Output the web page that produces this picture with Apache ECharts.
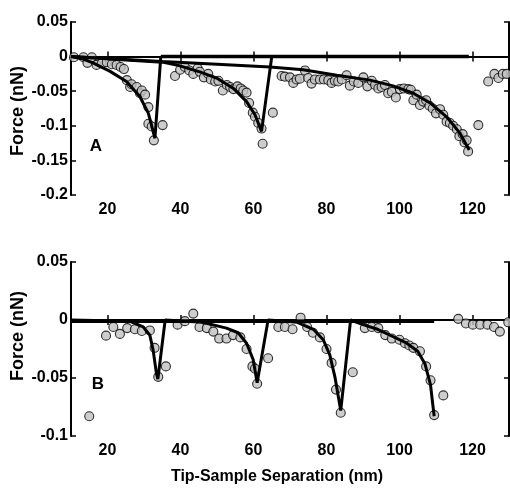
<!DOCTYPE html>
<html>
<head>
<meta charset="utf-8">
<script src="https://cdn.jsdelivr.net/npm/echarts@6/dist/echarts.min.js"></script>
<style>
html,body{margin:0;padding:0;background:#fff;}
#c{width:510px;height:494px;}
</style>
</head>
<body>
<div id="c"></div>
<script>
// ---- tick labels ----
const xTicks = [20, 40, 60, 80, 100, 120];
const yTicksA = [-0.2, -0.15, -0.1, -0.05, 0, 0.05];
const yTicksB = [-0.1, -0.05, 0, 0.05];

// ---- panel A: measured points (separation nm, force nN) ----
const pointsA = [
[10.8,-0.001],[13.4,-0.001],[14.5,-0.009],[15.7,-0.001],[17.0,-0.012],[18.4,-0.010],[19.8,-0.008],[21.2,-0.011],[22.5,-0.012],[23.6,-0.015],[24.5,-0.018],[25.3,-0.034],[26.2,-0.044],[26.6,-0.040],[28.0,-0.044],[28.9,-0.053],[29.4,-0.049],[30.3,-0.055],[31.2,-0.073],[31.2,-0.097],[32.1,-0.101],[32.7,-0.121],[35.1,-0.099],
[38.5,-0.028],[39.9,-0.019],[41.2,-0.015],[42.4,-0.020],[43.5,-0.025],[44.7,-0.017],[45.3,-0.022],[46.4,-0.030],[47.6,-0.025],[48.3,-0.033],[49.5,-0.036],[50.4,-0.035],[51.6,-0.049],[52.7,-0.041],[53.6,-0.044],[54.5,-0.047],[55.6,-0.043],[56.5,-0.046],[57.2,-0.049],[58.1,-0.052],[58.8,-0.067],[59.8,-0.081],[60.4,-0.087],[61.3,-0.096],[62.2,-0.104],[62.5,-0.126],[65.3,-0.081],
[67.7,-0.028],[68.6,-0.029],[70.0,-0.030],[70.9,-0.038],[71.8,-0.033],[72.7,-0.032],[74.1,-0.020],[75.0,-0.031],[75.9,-0.039],[76.8,-0.033],[78.2,-0.033],[79.3,-0.033],[80.5,-0.034],[81.4,-0.038],[82.3,-0.035],[83.2,-0.036],[84.2,-0.033],[85.5,-0.027],[86.4,-0.042],[87.5,-0.036],[88.7,-0.038],[90.1,-0.030],[91.2,-0.043],[92.4,-0.035],[93.3,-0.041],[94.2,-0.046],[95.1,-0.044],[96.0,-0.041],[96.9,-0.053],[97.9,-0.051],[99.0,-0.059],[100.1,-0.047],[101.2,-0.046],[102.4,-0.047],[103.1,-0.048],[103.8,-0.063],[104.7,-0.055],[105.6,-0.070],[106.5,-0.065],[107.3,-0.063],[108.2,-0.071],[109.1,-0.075],[110.0,-0.082],[111.1,-0.076],[112.0,-0.084],[112.9,-0.094],[113.8,-0.096],[114.7,-0.100],[115.7,-0.105],[116.4,-0.115],[117.3,-0.112],[117.8,-0.124],[118.4,-0.121],[118.8,-0.137],[121.6,-0.099],
[124.3,-0.036],[126.0,-0.025],[127.1,-0.031],[128.3,-0.025],[129.4,-0.025],[130.3,-0.036]
];
// ---- panel A: fitted curves ----
const fitA1 = [[10,0],[13,-0.003],[16,-0.009],[20.6,-0.021],[25.2,-0.036],[28.9,-0.058],[31.2,-0.082],[33,-0.118],[34.6,0]];
const baseA = [[34.6,0],[119,0]];
const fitA2 = [[10,0],[25,-0.005],[35,-0.008],[38.9,-0.012],[45.3,-0.022],[49.9,-0.031],[54.5,-0.046],[58.1,-0.065],[60.4,-0.084],[62.2,-0.108],[65,0]];
const fitA3 = [[10,0],[35,-0.007],[50,-0.011],[64.5,-0.015],[73.6,-0.019],[82.8,-0.027],[91.9,-0.034],[98,-0.042],[103.8,-0.053],[108.4,-0.067],[112.9,-0.087],[116.6,-0.111],[119.1,-0.135]];

// ---- panel B: measured points ----
const pointsB = [
[15.0,-0.083],[19.6,-0.0135],[21.6,-0.006],[23.4,-0.012],[25.4,-0.007],[27.5,-0.008],[29.4,-0.0095],[31.6,-0.009],[32.9,-0.024],[33.9,-0.049],[36.0,-0.040],
[39.2,-0.004],[41.2,-0.001],[43.5,0.0055],[45.2,-0.006],[47.2,-0.007],[49.0,-0.010],[50.6,-0.016],[52.6,-0.016],[54.4,-0.013],[56.4,-0.015],[58.1,-0.025],[59.7,-0.040],[60.4,-0.042],[61.0,-0.055],[64.0,-0.033],
[66.8,-0.006],[68.6,-0.006],[70.7,-0.008],[72.9,0.002],[74.7,-0.006],[76.3,-0.011],[78.2,-0.015],[80.0,-0.025],[81.4,-0.037],[82.6,-0.060],[83.9,-0.080],[87.2,-0.045],
[90.5,-0.007],[92.4,-0.006],[94.2,-0.007],[96.1,-0.013],[97.9,-0.016],[100.0,-0.017],[101.5,-0.020],[102.7,-0.022],[103.8,-0.024],[105.6,-0.027],[107.3,-0.040],[108.5,-0.052],[109.5,-0.082],[112.0,-0.065],
[116.1,0.001],[118.2,-0.003],[120.1,-0.004],[122.1,-0.004],[124.1,-0.004],[125.9,-0.006],[127.5,-0.010],[129.8,-0.002]
];
// ---- panel B: fitted curves ----
const baseB = [[10,-0.001],[109.5,-0.001]];
const fitB = [[10,0],[26,-0.001],[29.8,-0.006],[31.6,-0.013],[32.5,-0.026],[33.4,-0.046],[33.8,-0.051],[35.8,0],
[46,-0.002],[52.6,-0.007],[55.8,-0.011],[58.1,-0.020],[59.9,-0.034],[61,-0.054],[64,0],
[72,-0.002],[76.4,-0.008],[79.1,-0.017],[80.9,-0.030],[82.3,-0.049],[83.9,-0.078],[86.6,0],
[90,-0.004],[94,-0.008],[98,-0.014],[102,-0.020],[105,-0.027],[107,-0.038],[108.5,-0.056],[109.5,-0.083]];

const FONT = "'Liberation Sans',Arial,sans-serif";
const axLine = {show:true, lineStyle:{color:'#000', width:2}};
const tickSt = {color:'#000', width:1.5};

function xAx(grid, pos, labels){
  return {type:'value', gridIndex:grid, position:pos, min:10, max:130,
    axisLine:axLine,
    axisTick:{show:true, inside:true, length:5, customValues:xTicks, lineStyle:tickSt},
    axisLabel:{show:labels, customValues:xTicks, margin:7, color:'#000', fontFamily:FONT, fontWeight:'bold', fontSize:16},
    splitLine:{show:false}};
}
function yAx(grid, pos, labels, mn, mx, ticks){
  return {type:'value', gridIndex:grid, position:pos, min:mn, max:mx,
    axisLine:axLine,
    axisTick:{show:true, inside:true, length:5, customValues:ticks, lineStyle:tickSt},
    axisLabel:{show:labels, customValues:ticks, margin:3, color:'#000', fontFamily:FONT, fontWeight:'bold', fontSize:16,
      formatter:v=>String(+v.toFixed(2))},
    splitLine:{show:false}};
}
const ptStyle = {color:'#c0c0c0', borderColor:'#000', borderWidth:1.1};
function pts(data, xi, yi){
  return {type:'scatter', data:data, xAxisIndex:xi, yAxisIndex:yi, symbol:'circle', symbolSize:9,
    itemStyle:ptStyle, clip:true, z:2, silent:true, animation:false};
}
function ln(data, xi, yi, w){
  return {type:'line', data:data, xAxisIndex:xi, yAxisIndex:yi, showSymbol:false, symbol:'none',
    lineStyle:{color:'#000', width:w}, clip:true, z:3, silent:true, animation:false};
}

const chart = echarts.init(document.getElementById('c'), null, {renderer:'canvas'});
chart.setOption({
  animation:false,
  backgroundColor:'#fff',
  grid:[
    {left:71, top:22, width:438, height:173, containLabel:false},
    {left:71, top:262, width:438, height:174, containLabel:false}
  ],
  xAxis:[xAx(0,'bottom',true), xAx(0,'top',false), xAx(1,'bottom',true), xAx(1,'top',false)],
  yAxis:[yAx(0,'left',true,-0.2,0.05,yTicksA), yAx(0,'right',false,-0.2,0.05,yTicksA),
         yAx(1,'left',true,-0.1,0.05,yTicksB), yAx(1,'right',false,-0.1,0.05,yTicksB)],
  series:[
    pts(pointsA,0,0), ln(fitA1,0,0,3), ln(baseA,0,0,3.5), ln(fitA2,0,0,3), ln(fitA3,0,0,3),
    pts(pointsB,2,2), ln(baseB,2,2,3.5), ln(fitB,2,2,3)
  ],
  graphic:[
    {type:'text', x:18, y:111, rotation:Math.PI/2, style:{text:'Force (nN)', textAlign:'center', textVerticalAlign:'middle', fill:'#000', font:"bold 18px " + FONT}},
    {type:'text', x:18, y:336, rotation:Math.PI/2, style:{text:'Force (nN)', textAlign:'center', textVerticalAlign:'middle', fill:'#000', font:"bold 18px " + FONT}},
    {type:'text', x:277, y:477, style:{text:'Tip-Sample Separation (nm)', textAlign:'center', textVerticalAlign:'middle', fill:'#000', font:"bold 16px " + FONT}},
    {type:'text', x:96, y:146, style:{text:'A', textAlign:'center', textVerticalAlign:'middle', fill:'#000', font:"bold 17px " + FONT}},
    {type:'text', x:98, y:384, style:{text:'B', textAlign:'center', textVerticalAlign:'middle', fill:'#000', font:"bold 17px " + FONT}}
  ]
});
</script>
</body>
</html>
